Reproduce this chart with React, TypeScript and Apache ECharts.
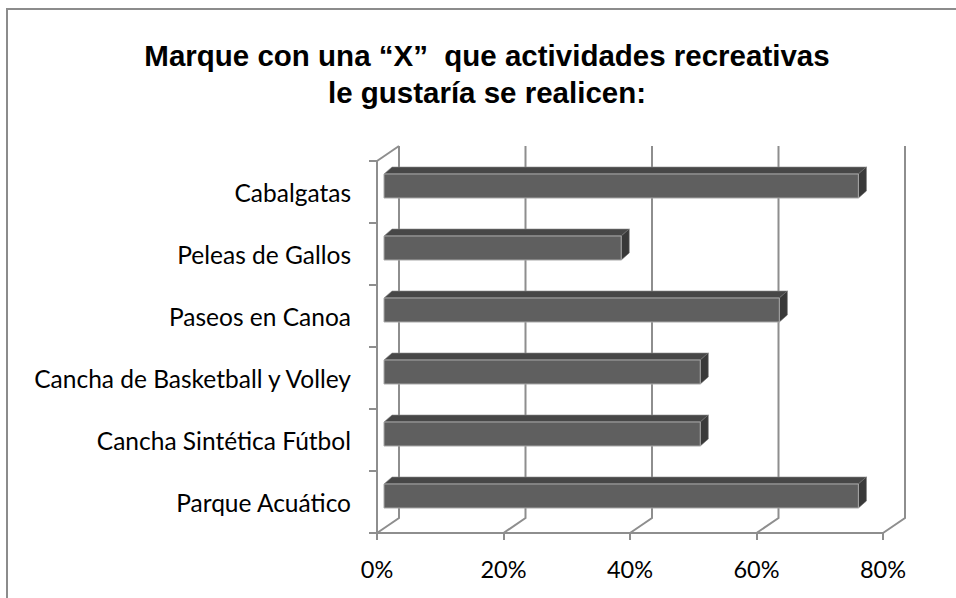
import React, { useEffect, useRef } from "react";
import * as echarts from "echarts";

const categories = [
  "Cabalgatas",
  "Peleas de Gallos",
  "Paseos en Canoa",
  "Cancha de Basketball y Volley",
  "Cancha Sintética Fútbol",
  "Parque Acuático",
];
const values = [75, 37.5, 62.5, 50, 50, 75];
const xTicks = [0, 20, 40, 60, 80];
const titleLines = ["Marque con una “X”  que actividades recreativas", "le gustaría se realicen:"];

const LINE = "#8e8e8e";
const FONT = "Lato";

export default function App() {
  const ref = useRef<HTMLDivElement>(null);
  useEffect(() => {
    if (!ref.current) return;
    const chart = echarts.init(ref.current, null, { renderer: "svg" });
    const depthX = 22;
    const depthY = 15;
    chart.setOption({
      animation: false,
      backgroundColor: "#ffffff",
      grid: { left: 377, top: 161, width: 506, height: 372, containLabel: false },
      xAxis: {
        type: "value",
        min: 0,
        max: 80,
        interval: 20,
        axisLine: { show: true, lineStyle: { color: LINE, width: 2 } },
        axisTick: { show: true, length: 7, lineStyle: { color: LINE, width: 2 } },
        splitLine: { show: false },
        axisLabel: { formatter: "{value}%", fontSize: 23.5, fontFamily: FONT, color: "#000", margin: 24 },
      },
      yAxis: {
        type: "category",
        data: categories,
        inverse: true,
        axisLine: { show: true, lineStyle: { color: LINE, width: 2 } },
        axisTick: { show: true, length: 8, lineStyle: { color: LINE, width: 2 } },
        splitLine: { show: false },
        axisLabel: { fontSize: 24.5, fontFamily: FONT, color: "#000", margin: 26 },
      },
      graphic: [
        {
          type: "rect",
          shape: { x: 7, y: 9, width: 1200, height: 900 },
          style: { fill: "none", stroke: "#8c8c8c", lineWidth: 2 },
          silent: true,
        },
        {
          type: "text",
          x: 487,
          y: 55,
          style: {
            text: titleLines[0],
            font: "bold 29.5px 'Liberation Sans', Arial, sans-serif",
            fill: "#000",
            textAlign: "center",
            textVerticalAlign: "middle",
          },
        },
        {
          type: "text",
          x: 487,
          y: 92,
          style: {
            text: titleLines[1],
            font: "bold 29.5px 'Liberation Sans', Arial, sans-serif",
            fill: "#000",
            textAlign: "center",
            textVerticalAlign: "middle",
          },
        },
      ],
      series: [
        {
          type: "custom",
          silent: true,
          z: 1,
          encode: { x: 0, y: 1 },
          data: xTicks.map((v) => [v, 0]),
          renderItem: (params: any, api: any) => {
            const cs = params.coordSys;
            const x = api.coord([api.value(0), 0])[0];
            const bottom = cs.y + cs.height;
            const top = cs.y;
            const children: any[] = [
              {
                type: "polyline",
                shape: {
                  points: [
                    [x, bottom],
                    [x + depthX, bottom - depthY],
                    [x + depthX, top - depthY],
                  ],
                },
                style: { stroke: LINE, lineWidth: 2, fill: "none" },
              },
            ];
            if (api.value(0) === 0) {
              children.push({
                type: "line",
                shape: { x1: x, y1: top, x2: x + depthX, y2: top - depthY },
                style: { stroke: LINE, lineWidth: 2 },
              });
            }
            return { type: "group", children };
          },
        },
        {
          type: "custom",
          silent: true,
          z: 3,
          encode: { x: 0, y: 1 },
          data: values.map((v, i) => [v, i]),
          renderItem: (params: any, api: any) => {
            const v = api.value(0);
            const idx = api.value(1);
            const s = api.coord([0, idx]);
            const e = api.coord([v, idx]);
            const cy = s[1] - 6;
            const h = 24;
            const x0 = s[0] + 7;
            const x1 = e[0] + 7;
            const yT = cy - h / 2;
            const yB = cy + h / 2;
            const dx = 8;
            const dy = 7;
            return {
              type: "group",
              children: [
                {
                  type: "polygon",
                  shape: { points: [[x0, yT], [x1, yT], [x1 + dx, yT - dy], [x0 + dx, yT - dy]] },
                  style: { fill: "#474747", stroke: "#8a8a8a", lineWidth: 0.6 },
                },
                {
                  type: "polygon",
                  shape: { points: [[x1, yT], [x1 + dx, yT - dy], [x1 + dx, yB - dy], [x1, yB]] },
                  style: { fill: "#393939", stroke: "#6a6a6a", lineWidth: 0.6 },
                },
                {
                  type: "rect",
                  shape: { x: x0, y: yT, width: x1 - x0, height: h },
                  style: { fill: "#5f5f5f", stroke: "#a8a8a8", lineWidth: 1 },
                },
              ],
            };
          },
        },
      ],
    });
    return () => chart.dispose();
  }, []);
  return <div ref={ref} style={{ position: "fixed", left: 0, top: 0, width: 956, height: 598 }} />;
}
